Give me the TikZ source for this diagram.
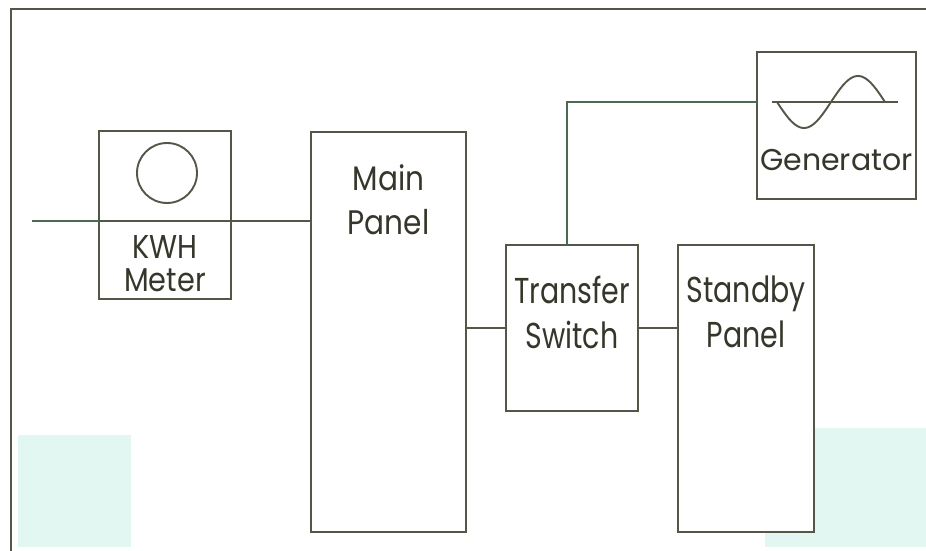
\documentclass[tikz,border=0pt]{standalone}
\usepackage{fontspec}
\setmainfont{Poppins}
\newfontfamily\labelface{Poppins}[FakeStretch=0.87]
\newfontfamily\narrowface{Poppins}[FakeStretch=0.79]
\usepackage{tikz}
\usetikzlibrary{positioning}
\definecolor{inkline}{HTML}{545747}
\definecolor{inktext}{HTML}{35372A}
\definecolor{wiregreen}{HTML}{4A6C4E}
\definecolor{scanmint}{HTML}{E2F7F1}
\tikzset{
  unitbox/.style={
    rectangle, draw=inkline, fill=white, line width=1.9pt,
    inner sep=0pt, outer sep=0pt
  },
  wire/.style={
    line width=1.9pt, color=#1
  },
  wire/.default=inkline,
  labelnode/.style={
    text=inktext, align=center, inner sep=0pt, outer sep=0pt
  },
}

\begin{document}
\begin{tikzpicture}[x=1pt,y=-1pt]
  \useasboundingbox (0,0) rectangle (926,551);
  % faint tint of the scan
  \fill[scanmint] (18,435) rectangle (131,547);
  \fill[scanmint] (765,428) rectangle (926,547);
  % frame
  \draw[wire, line width=2.6pt] (926,9) -- (11,9) -- (11,551);

  \node[unitbox, minimum width=132pt, minimum height=168pt] (meter) at (165,215) {};
  \node[unitbox, minimum width=155pt, minimum height=400pt] (main) at (388.5,332) {};
  \node[unitbox, minimum width=132pt, minimum height=166pt] (sw) at (572,328) {};
  \node[unitbox, minimum width=136pt, minimum height=287pt] (standby) at (746,388.5) {};
  \node[unitbox, minimum width=159pt, minimum height=147pt] (gen) at (836.5,125.5) {};

  % labels
  \node[labelnode, font=\labelface\fontsize{33}{33}\selectfont, above=7pt of meter.south] (metertext) {KWH\\Meter};
  \node[labelnode, font=\labelface\fontsize{34}{44}\selectfont, below=33pt of main.north] (maintext) {Main\\Panel};
  \node[labelnode, font=\narrowface\fontsize{36}{45}\selectfont, below=31pt of sw.north] (swtext) {Transfer\\Switch};
  \node[labelnode, font=\narrowface\fontsize{36}{45}\selectfont, below=31pt of standby.north] (standbytext) {Standby\\Panel};
  \node[labelnode, font=\fontsize{30}{36}\selectfont, above=28pt of gen.south] (gentext) {Generator};

  % meter dial and generator symbol
  \draw[wire] (167,173) circle (30);
  \coordinate (genaxis) at (836,102);
  \draw[wire] (772,102) -- (898,102);
  \draw[wire, domain=0:108, samples=60, smooth, variable=\t]
    plot ({777+\t},{102+26*sin(3.3333*\t)});

  % wiring
  \coordinate (incoming) at (32,221);
  \draw[wire=wiregreen] (incoming) -- (meter.west |- incoming);
  \draw[wire] (meter.west |- incoming) -- (main.west |- incoming);
  \draw[wire] (main.east |- sw.west) -- (sw.west);
  \draw[wire] (sw.east) -- (sw.east -| standby.west);
  \draw[wire=wiregreen] ([xshift=-5pt]sw.north) |- (gen.west |- genaxis);
\end{tikzpicture}
\end{document}
